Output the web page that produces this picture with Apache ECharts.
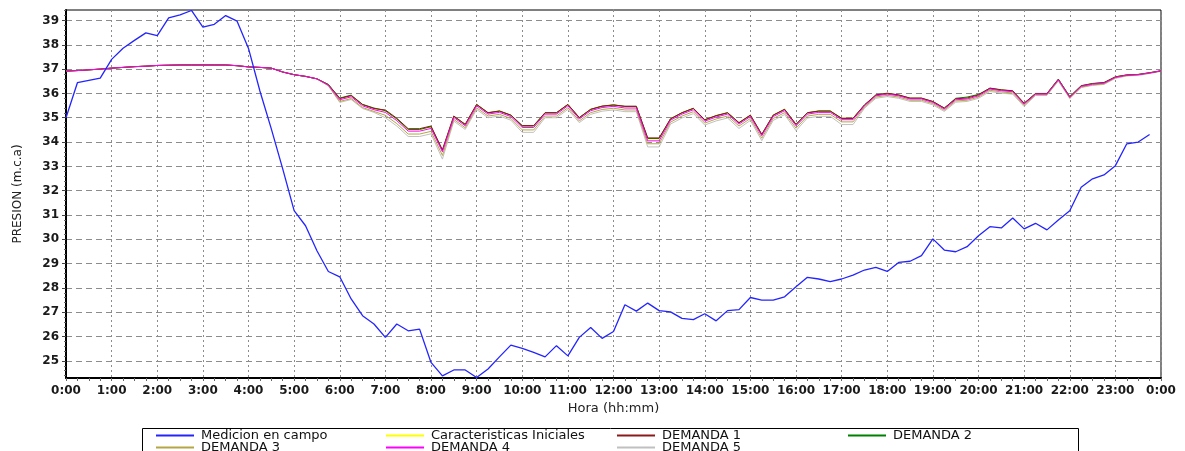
<!DOCTYPE html>
<html>
<head>
<meta charset="utf-8">
<script src="https://cdn.jsdelivr.net/npm/echarts@6/dist/echarts.min.js"></script>
<style>
  html, body { margin: 0; padding: 0; background: #fff; }
  #chart { width: 1185px; height: 451px; }
</style>
</head>
<body>
<div id="chart"></div>
<script>
// horas cada 15 min, de 0:00 a 24:00 (se muestra como 0:00)
const horas = [];
for (let i = 0; i <= 96; i++) {
  horas.push(Math.floor(i / 4) + ':' + ['00', '15', '30', '45'][i % 4]);
}
const yTicks = [25, 26, 27, 28, 29, 30, 31, 32, 33, 34, 35, 36, 37, 38, 39];

const medicion = [35.00, 36.44, 36.54, 36.63, 37.40, 37.86, 38.18, 38.49, 38.38, 39.11, 39.23, 39.41, 38.73, 38.84, 39.20, 38.97,
  37.85, 36.10, 34.54, 32.90, 31.18, 30.56, 29.53, 28.68, 28.46, 27.55, 26.86, 26.52, 25.97, 26.52, 26.24, 26.31,
  24.94, 24.39, 24.63, 24.63, 24.32, 24.67, 25.17, 25.65, 25.52, 25.35, 25.17, 25.63, 25.21, 25.97, 26.38, 25.93,
  26.21, 27.31, 27.05, 27.38, 27.07, 27.02, 26.75, 26.70, 26.94, 26.65, 27.07, 27.11, 27.61, 27.50, 27.50, 27.64,
  28.05, 28.44, 28.37, 28.26, 28.37, 28.53, 28.74, 28.85, 28.68, 29.05, 29.10, 29.33, 30.02, 29.56, 29.49, 29.70,
  30.15, 30.52, 30.47, 30.88, 30.43, 30.66, 30.39, 30.80, 31.18, 32.14, 32.49, 32.65, 33.03, 33.93, 34.00, 34.31];

const iniciales = [36.92, 36.94, 36.97, 37.00, 37.04, 37.07, 37.10, 37.12, 37.15, 37.16, 37.17, 37.17, 37.17, 37.17, 37.17, 37.14,
  37.09, 37.07, 37.04, 36.88, 36.77, 36.70, 36.60, 36.36, 35.78, 35.90, 35.53, 35.37, 35.28, 34.94, 34.51, 34.51,
  34.62, 33.65, 35.07, 34.73, 35.55, 35.21, 35.28, 35.11, 34.66, 34.66, 35.21, 35.21, 35.55, 35.01, 35.35, 35.48,
  35.53, 35.46, 35.46, 34.13, 34.13, 34.96, 35.21, 35.39, 34.92, 35.09, 35.21, 34.80, 35.11, 34.32, 35.11, 35.35,
  34.73, 35.21, 35.28, 35.28, 34.98, 34.98, 35.52, 35.93, 36.00, 35.93, 35.80, 35.80, 35.66, 35.39, 35.77, 35.80,
  35.93, 36.21, 36.14, 36.10, 35.59, 35.99, 35.99, 36.58, 35.86, 36.31, 36.40, 36.44, 36.68, 36.77, 36.78, 36.85, 36.93];

const demanda1 = [36.92, 36.94, 36.97, 37.00, 37.04, 37.07, 37.10, 37.12, 37.15, 37.16, 37.17, 37.17, 37.17, 37.17, 37.17, 37.14,
  37.09, 37.07, 37.04, 36.88, 36.77, 36.70, 36.60, 36.36, 35.79, 35.91, 35.54, 35.38, 35.32, 34.98, 34.55, 34.55,
  34.66, 33.68, 35.07, 34.73, 35.55, 35.21, 35.28, 35.11, 34.68, 34.68, 35.21, 35.21, 35.55, 35.01, 35.35, 35.48,
  35.53, 35.47, 35.47, 34.17, 34.17, 34.96, 35.21, 35.39, 34.92, 35.09, 35.21, 34.80, 35.11, 34.32, 35.11, 35.35,
  34.73, 35.21, 35.28, 35.28, 34.98, 34.98, 35.53, 35.94, 36.01, 35.94, 35.81, 35.81, 35.67, 35.40, 35.78, 35.81,
  35.94, 36.22, 36.15, 36.11, 35.60, 35.99, 35.99, 36.58, 35.86, 36.31, 36.40, 36.44, 36.68, 36.76, 36.78, 36.85, 36.93];

const demanda2 = [36.92, 36.94, 36.97, 37.00, 37.04, 37.07, 37.10, 37.12, 37.15, 37.16, 37.17, 37.17, 37.17, 37.17, 37.17, 37.14,
  37.09, 37.07, 37.04, 36.88, 36.77, 36.70, 36.60, 36.37, 35.81, 35.93, 35.55, 35.40, 35.29, 34.95, 34.52, 34.52,
  34.63, 33.66, 35.06, 34.72, 35.54, 35.20, 35.27, 35.10, 34.66, 34.66, 35.20, 35.20, 35.54, 35.00, 35.34, 35.47,
  35.52, 35.47, 35.47, 34.15, 34.15, 34.95, 35.20, 35.38, 34.91, 35.08, 35.20, 34.79, 35.10, 34.31, 35.10, 35.34,
  34.72, 35.20, 35.27, 35.27, 34.97, 34.97, 35.52, 35.93, 36.00, 35.93, 35.80, 35.80, 35.66, 35.39, 35.80, 35.85,
  35.96, 36.21, 36.14, 36.10, 35.59, 36.00, 36.00, 36.59, 35.87, 36.32, 36.41, 36.45, 36.68, 36.76, 36.78, 36.85, 36.93];

const demanda3 = [36.92, 36.94, 36.97, 37.00, 37.04, 37.07, 37.10, 37.12, 37.15, 37.16, 37.17, 37.17, 37.17, 37.17, 37.17, 37.14,
  37.09, 37.07, 37.04, 36.88, 36.77, 36.70, 36.60, 36.32, 35.67, 35.79, 35.42, 35.26, 35.10, 34.76, 34.33, 34.33,
  34.44, 33.45, 34.93, 34.59, 35.41, 35.07, 35.14, 34.97, 34.50, 34.50, 35.07, 35.07, 35.41, 34.87, 35.21, 35.34,
  35.39, 35.32, 35.32, 33.93, 33.93, 34.82, 35.07, 35.25, 34.78, 34.95, 35.07, 34.66, 34.97, 34.16, 34.97, 35.21,
  34.57, 35.07, 35.14, 35.14, 34.83, 34.83, 35.44, 35.85, 35.92, 35.85, 35.72, 35.72, 35.58, 35.31, 35.69, 35.72,
  35.85, 36.13, 36.06, 36.02, 35.51, 35.94, 35.94, 36.53, 35.81, 36.26, 36.35, 36.39, 36.64, 36.73, 36.76, 36.83, 36.92];

const demanda4 = [36.92, 36.94, 36.97, 37.00, 37.04, 37.07, 37.10, 37.12, 37.15, 37.16, 37.17, 37.17, 37.17, 37.17, 37.17, 37.14,
  37.09, 37.07, 37.04, 36.88, 36.77, 36.70, 36.60, 36.34, 35.74, 35.86, 35.49, 35.33, 35.22, 34.88, 34.45, 34.45,
  34.56, 33.60, 35.01, 34.67, 35.49, 35.15, 35.22, 35.05, 34.60, 34.60, 35.15, 35.15, 35.49, 34.95, 35.29, 35.42,
  35.47, 35.40, 35.40, 34.05, 34.05, 34.90, 35.15, 35.33, 34.86, 35.03, 35.15, 34.74, 35.05, 34.26, 35.05, 35.29,
  34.67, 35.15, 35.22, 35.22, 34.92, 34.92, 35.49, 35.90, 35.97, 35.90, 35.77, 35.77, 35.63, 35.36, 35.74, 35.77,
  35.90, 36.18, 36.11, 36.07, 35.56, 35.97, 35.97, 36.56, 35.84, 36.29, 36.38, 36.42, 36.66, 36.75, 36.77, 36.84, 36.93];

const demanda5 = [36.92, 36.94, 36.97, 37.00, 37.04, 37.07, 37.10, 37.12, 37.15, 37.16, 37.17, 37.17, 37.17, 37.17, 37.17, 37.14,
  37.09, 37.07, 37.04, 36.88, 36.77, 36.70, 36.60, 36.31, 35.63, 35.75, 35.38, 35.22, 35.00, 34.66, 34.23, 34.23,
  34.34, 33.30, 34.86, 34.52, 35.34, 35.00, 35.07, 34.90, 34.40, 34.40, 35.00, 35.00, 35.34, 34.80, 35.14, 35.27,
  35.32, 35.25, 35.25, 33.80, 33.80, 34.74, 34.99, 35.17, 34.70, 34.87, 34.99, 34.56, 34.89, 34.06, 34.89, 35.13,
  34.47, 34.99, 35.06, 35.06, 34.72, 34.72, 35.39, 35.80, 35.87, 35.80, 35.67, 35.67, 35.53, 35.26, 35.64, 35.67,
  35.80, 36.08, 36.01, 35.97, 35.46, 35.92, 35.92, 36.51, 35.79, 36.24, 36.33, 36.37, 36.62, 36.72, 36.74, 36.82, 36.91];

// marcas pequeñas del eje Y cada 0.2
const yMinor = [];
for (let v = 24.4; v < 39.43; v += 0.2) {
  const r = Math.round(v * 10) / 10;
  if (Math.abs(r - Math.round(r)) > 0.01) yMinor.push(r);
}

const labelFont = { fontFamily: 'DejaVu Sans', fontSize: 12, fontWeight: 'bold', color: '#1a1a1a' };

function linea (name, data, color, width) {
  return {
    name: name,
    type: 'line',
    data: data,
    color: color,
    symbol: 'none',
    lineStyle: { color: color, width: width || 1 }
  };
}

// una leyenda por elemento para fijar la rejilla de columnas
function leyenda (left, top, name) {
  return {
    left: left,
    top: top,
    padding: 0,
    itemWidth: 38,
    itemHeight: 2,
    icon: 'rect',
    selectedMode: false,
    data: [name],
    textStyle: { fontFamily: 'DejaVu Sans', fontSize: 13, color: '#111', padding: [0, 0, 0, 2] }
  };
}

const myChart = echarts.init(document.getElementById('chart'));
const option = {
  animation: false,
  backgroundColor: '#fff',
  grid: {
    left: 66, right: 24, top: 10, bottom: 73,
    show: true, borderColor: '#000', borderWidth: 1
  },
  legend: [
    leyenda(156, 429, 'Medicion en campo'),
    leyenda(386, 429, 'Caracteristicas Iniciales'),
    leyenda(617, 429, 'DEMANDA 1'),
    leyenda(848, 429, 'DEMANDA 2'),
    leyenda(156, 441, 'DEMANDA 3'),
    leyenda(386, 441, 'DEMANDA 4'),
    leyenda(617, 441, 'DEMANDA 5')
  ],
  graphic: [{
    type: 'rect',
    left: 140, top: 426,
    shape: { width: 936, height: 40 },
    style: { fill: 'none', stroke: '#000', lineWidth: 1 },
    silent: true
  }],
  xAxis: {
    type: 'category',
    data: horas,
    boundaryGap: false,
    name: 'Hora (hh:mm)',
    nameLocation: 'middle',
    nameGap: 19,
    nameTextStyle: { fontFamily: 'DejaVu Sans', fontSize: 13, color: '#222' },
    axisLine: { lineStyle: { color: '#000', width: 2 } },
    axisTick: { interval: 0, length: 3, lineStyle: { color: '#666' } },
    axisLabel: Object.assign({
      interval: 3,
      margin: 7,
      formatter: function (v) { return v === '24:00' ? '0:00' : v }
    }, labelFont),
    splitLine: { show: true, interval: 3, lineStyle: { color: '#8c8c8c', type: [2, 3] } }
  },
  yAxis: [{
    type: 'value',
    min: 24.3,
    max: 39.43,
    name: 'PRESION (m.c.a)',
    nameLocation: 'middle',
    nameRotate: 90,
    nameGap: 42,
    nameTextStyle: { fontFamily: 'DejaVu Sans', fontSize: 12, color: '#222' },
    axisLine: { show: true, lineStyle: { color: '#000', width: 2 } },
    axisTick: { show: true, customValues: yTicks, length: 4, lineStyle: { color: '#444' } },
    axisLabel: Object.assign({ customValues: yTicks, margin: 7 }, labelFont),
    splitLine: { show: true, lineStyle: { color: '#8c8c8c', type: [6, 4] } }
  }, {
    type: 'value',
    min: 24.3,
    max: 39.43,
    position: 'left',
    axisLine: { show: false },
    axisTick: { show: true, customValues: yMinor, length: 2, lineStyle: { color: '#666' } },
    axisLabel: { show: false },
    splitLine: { show: false }
  }],
  series: [
    linea('DEMANDA 5', demanda5, '#c0c0c0'),
    linea('DEMANDA 3', demanda3, '#b5a642'),
    linea('Caracteristicas Iniciales', iniciales, '#ffff00'),
    linea('DEMANDA 2', demanda2, '#008000'),
    linea('DEMANDA 1', demanda1, '#8b1a1a'),
    linea('DEMANDA 4', demanda4, '#ff00ff'),
    linea('Medicion en campo', medicion, '#2424ff', 1.3)
  ]
};
myChart.setOption(option);
window.addEventListener('resize', function () {
  myChart.resize();
});
</script>
</body>
</html>
